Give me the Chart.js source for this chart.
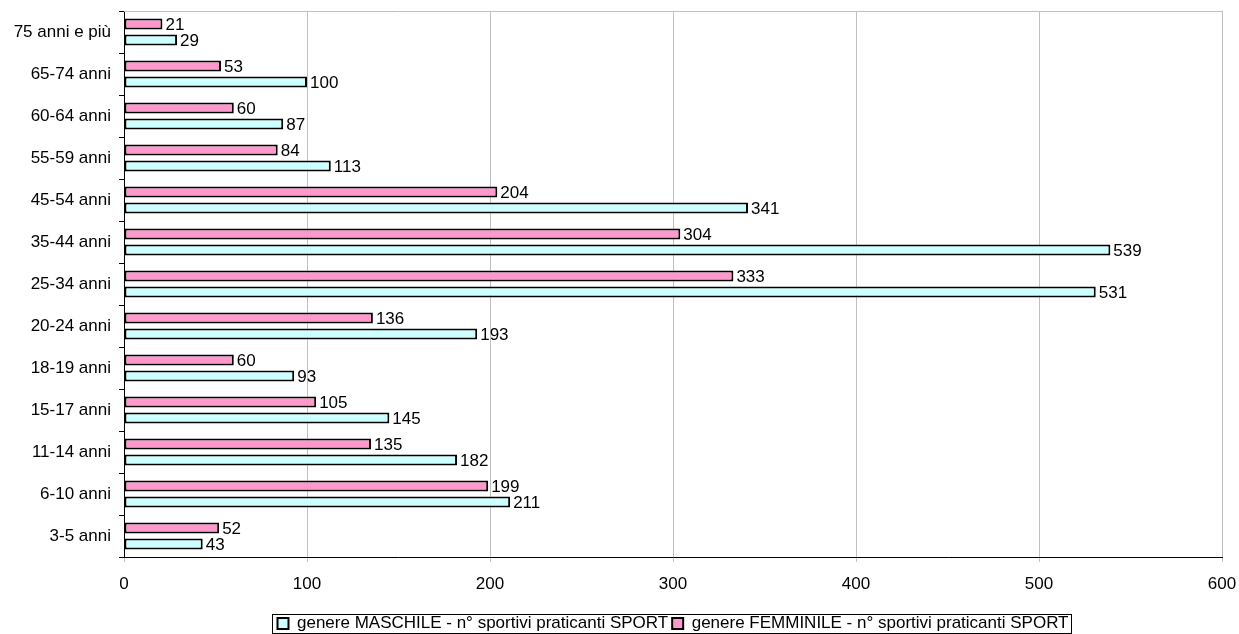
<!DOCTYPE html>
<html>
<head>
<meta charset="utf-8">
<script src="https://cdn.jsdelivr.net/npm/chart.js@4/dist/chart.umd.min.js"></script>
<style>
  html, body { margin: 0; padding: 0; background: #fff; }
  #wrap { width: 1239px; height: 634px; }
</style>
</head>
<body>
<div id="wrap"><canvas id="graph" width="1239" height="634"></canvas></div>
<script>
const ctx = document.getElementById('graph');

// categories, top to bottom
var categories = ['75 anni e più', '65-74 anni', '60-64 anni', '55-59 anni', '45-54 anni', '35-44 anni',
  '25-34 anni', '20-24 anni', '18-19 anni', '15-17 anni', '11-14 anni', '6-10 anni', '3-5 anni'];
var femmine = [21, 53, 60, 84, 204, 304, 333, 136, 60, 105, 135, 199, 52];
var maschi = [29, 100, 87, 113, 341, 539, 531, 193, 93, 145, 182, 211, 43];
var xTicks = [0, 100, 200, 300, 400, 500, 600];

var labelF = 'genere FEMMINILE - n° sportivi praticanti SPORT';
var labelM = 'genere MASCHILE - n° sportivi praticanti SPORT';

var FONT = "'Liberation Sans', Arial, sans-serif";
var FSIZE = 17;

// value labels at the end of each bar
const valueLabels = {
  id: 'valueLabels',
  afterDatasetsDraw(chart) {
    const c = chart.ctx;
    c.save();
    c.font = FSIZE + 'px ' + FONT;
    c.fillStyle = '#000';
    c.textBaseline = 'middle';
    c.textAlign = 'left';
    chart.data.datasets.forEach((ds, di) => {
      chart.getDatasetMeta(di).data.forEach((bar, i) => {
        c.fillText(ds.data[i], bar.x + 3, bar.y + 1);
      });
    });
    c.restore();
  }
};

// gray frame round the plot and a box round the legend
const frames = {
  id: 'frames',
  beforeDatasetsDraw(chart) {
    const a = chart.chartArea;
    const c = chart.ctx;
    c.save();
    c.strokeStyle = '#c0c0c0';
    c.lineWidth = 1;
    c.beginPath();
    c.moveTo(a.left, a.top + 0.5);
    c.lineTo(a.right + 0.5, a.top + 0.5);
    c.lineTo(a.right + 0.5, a.bottom);
    c.stroke();
    c.restore();
  },
  afterDraw(chart) {
    const boxes = chart.legend.legendHitBoxes;
    if (!boxes || !boxes.length) return;
    let l = Infinity, r = -Infinity, t = Infinity, b = -Infinity;
    boxes.forEach(h => {
      l = Math.min(l, h.left); r = Math.max(r, h.left + h.width);
      t = Math.min(t, h.top); b = Math.max(b, h.top + h.height);
    });
    const c = chart.ctx;
    c.save();
    c.strokeStyle = '#000';
    c.lineWidth = 1;
    c.strokeRect(Math.round(l - 5) + 0.5, Math.round(t - 1) + 0.5, Math.round(r - l + 8), Math.round(b - t + 2));
    c.restore();
  }
};

var graph = new Chart(ctx, {
  type: 'bar',
  data: {
    labels: categories,
    datasets: [{
      label: labelF,
      data: femmine,
      backgroundColor: '#ff99cc',
      borderColor: '#000',
      borderWidth: 2,
      borderSkipped: false,
      categoryPercentage: 0.76,
      barPercentage: 0.7
    }, {
      label: labelM,
      data: maschi,
      backgroundColor: '#ccffff',
      borderColor: '#000',
      borderWidth: 2,
      borderSkipped: false,
      categoryPercentage: 0.76,
      barPercentage: 0.7
    }]
  },
  options: {
    indexAxis: 'y',
    responsive: false,
    animation: false,
    layout: { padding: { left: 0, right: 17, top: 11, bottom: -8 } },
    scales: {
      x: {
        min: 0,
        max: 600,
        afterBuildTicks: (scale) => { scale.ticks = xTicks.map(v => ({ value: v })); },
        grid: { color: '#c0c0c0', tickLength: 5, drawTicks: true },
        border: { color: '#000', width: 1 },
        ticks: { color: '#000', font: { size: FSIZE, family: FONT }, padding: 12, maxRotation: 0 },
        afterFit: (scale) => {
          scale.height = 54;
          scale.paddingLeft = 0;
          scale.paddingRight = 0;
        }
      },
      y: {
        grid: { drawOnChartArea: false, drawTicks: true, tickLength: 5, color: '#000' },
        border: { color: '#000', width: 1 },
        ticks: { color: '#000', font: { size: FSIZE, family: FONT }, padding: 8 },
        afterFit: (scale) => {
          scale.width = 124;
          scale.paddingTop = 0;
          scale.paddingBottom = 0;
        }
      }
    },
    plugins: {
      legend: {
        position: 'bottom',
        reverse: true,
        fullSize: false,
        labels: {
          color: '#000',
          font: { size: FSIZE, family: FONT },
          boxWidth: 11,
          boxHeight: 11,
          padding: 4
        }
      },
      tooltip: { enabled: false }
    }
  },
  plugins: [valueLabels, frames]
});
</script>
</body>
</html>
